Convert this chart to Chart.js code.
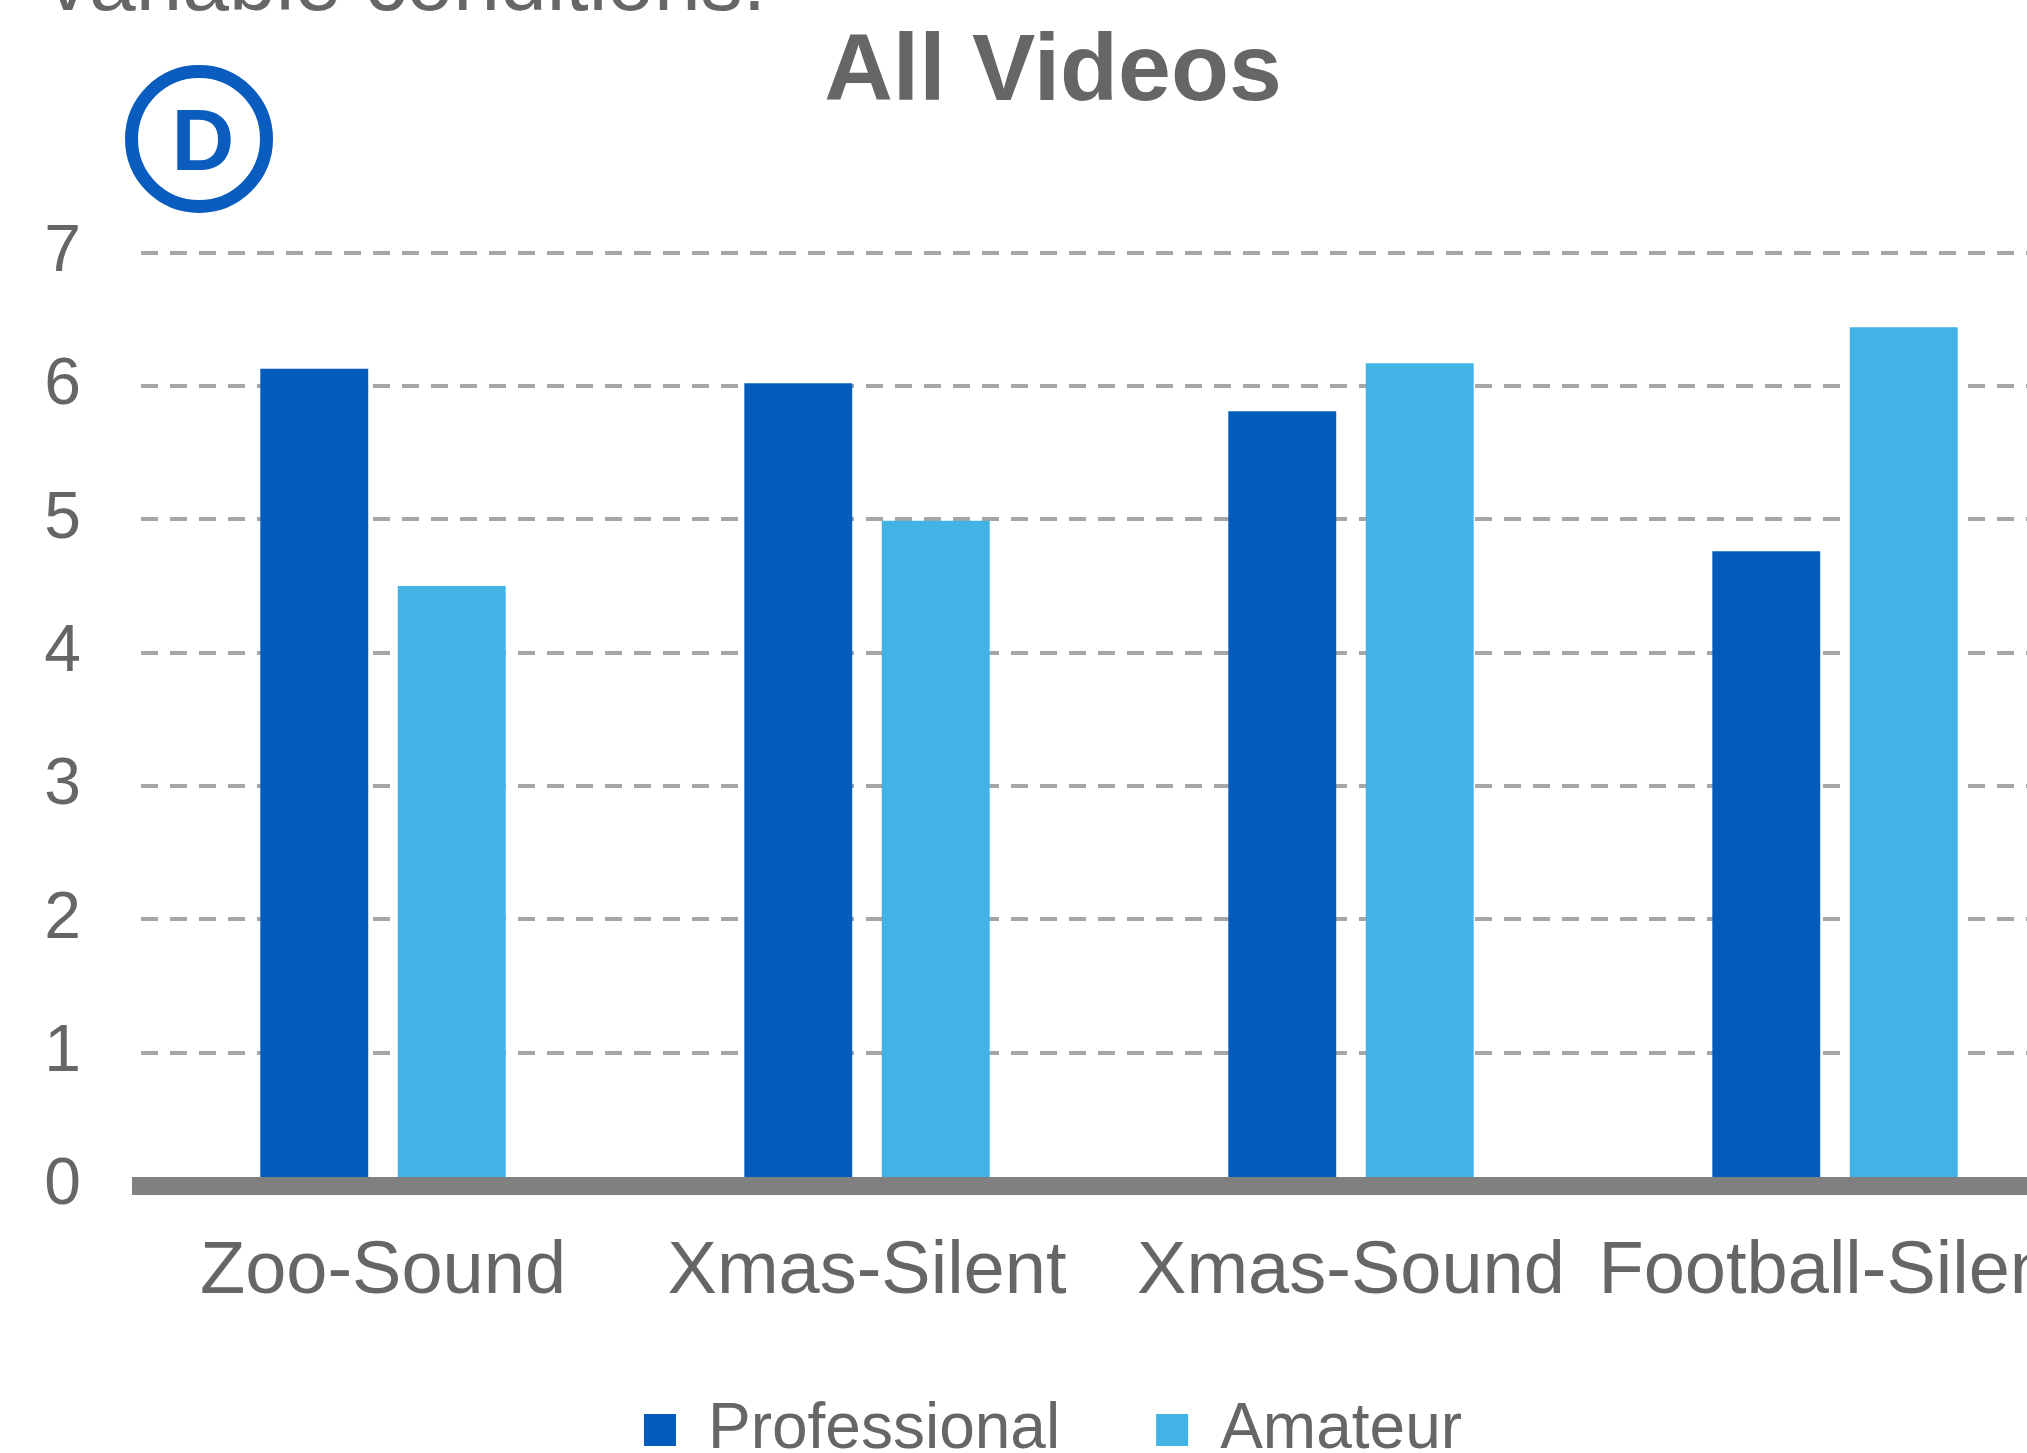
<!DOCTYPE html>
<html>
<head>
<meta charset="utf-8">
<script src="https://cdn.jsdelivr.net/npm/chart.js@4.4.1/dist/chart.umd.min.js"></script>
<style>
  html, body {
    margin: 0;
    padding: 0;
    background: #ffffff;
    overflow: hidden;
  }
  #slide {
    position: relative;
    width: 2027px;
    height: 1453px;
    overflow: hidden;
    background: #ffffff;
    font-family: "Liberation Sans", Arial, sans-serif;
  }
  #chart {
    position: absolute;
    left: 0;
    top: 0;
  }
  .subtitle {
    position: absolute;
    left: 47px;
    top: -61px;
    font-size: 84px;
    line-height: 1;
    color: #666666;
    white-space: nowrap;
  }
  .logo {
    position: absolute;
    left: 125px;
    top: 65px;
    width: 148px;
    height: 148px;
    box-sizing: border-box;
    border: 13px solid #0a5cbe;
    border-radius: 50%;
    display: flex;
    align-items: center;
    justify-content: center;
    color: #0a5cbe;
    font-weight: bold;
    font-size: 87px;
    line-height: 1;
    padding-left: 8px;
  }
</style>
</head>
<body>
<div id="slide">
  <canvas id="chart" width="2106" height="1472"></canvas>
  <div class="subtitle">variable conditions.</div>
  <div class="logo">D</div>
</div>
<script>
  // --- dados ---
  const categorias = ["Zoo-Sound", "Xmas-Silent", "Xmas-Sound", "Football-Silent"];
  const professional = [6.13, 6.02, 5.81, 4.76];
  const amateur = [4.5, 4.99, 6.17, 6.44];
  const yTicks = [0, 1, 2, 3, 4, 5, 6, 7];

  const cinza = "#666666";
  Chart.defaults.font.family = "'Liberation Sans', Arial, sans-serif";
  Chart.defaults.color = cinza;

  const ctx = document.getElementById("chart");

  const grafico = new Chart(ctx.getContext("2d"), {
    type: "bar",
    data: {
      labels: categorias,
      datasets: [
        {
          label: "Professional",
          data: professional,
          backgroundColor: "#025cbb",
          categoryPercentage: 0.568,
          barPercentage: 0.785,
        },
        {
          label: "Amateur",
          data: amateur,
          backgroundColor: "#41b4e5",
          categoryPercentage: 0.568,
          barPercentage: 0.785,
        },
      ],
    },
    options: {
      responsive: false,
      animation: false,
      devicePixelRatio: 1,
      layout: { padding: 0 },
      plugins: {
        title: {
          display: true,
          text: "All Videos",
          color: cinza,
          font: { size: 95, weight: "bold", lineHeight: 1.2 },
          padding: { top: 17, bottom: 121.7 },
        },
        legend: {
          position: "bottom",
          labels: {
            boxWidth: 32,
            boxHeight: 32,
            padding: 96,
            color: cinza,
            font: { size: 64 },
          },
        },
        tooltip: { enabled: false },
      },
      scales: {
        x: {
          grid: { display: false, drawTicks: false },
          border: { display: true, color: "#808080", width: 18, z: 1 },
          ticks: {
            color: cinza,
            // altura de linha grande empurra o texto para baixo sem padding lateral
            font: { size: 74, lineHeight: 2.335 },
            padding: 0,
            maxRotation: 0,
            autoSkip: false,
          },
          afterFit: (scale) => {
            scale.height = 116;
          },
        },
        y: {
          min: 0,
          max: 7,
          grid: { color: "#a6a6a6", lineWidth: 4, drawTicks: false },
          border: { display: false, dash: [17, 12] },
          afterBuildTicks: (scale) => {
            scale.ticks = yTicks.map((v) => ({ value: v }));
          },
          ticks: {
            color: cinza,
            font: { size: 66 },
            padding: 60,
            callback: (value) => value,
          },
          afterFit: (scale) => {
            scale.width = 141;
          },
        },
        // eixo vazio só para reservar espaço à direita
        yDir: {
          position: "right",
          display: true,
          grid: { display: false, drawTicks: false },
          border: { display: false },
          ticks: { display: false },
          afterFit: (scale) => {
            scale.width = 29;
          },
        },
      },
    },
  });
</script>
</body>
</html>
